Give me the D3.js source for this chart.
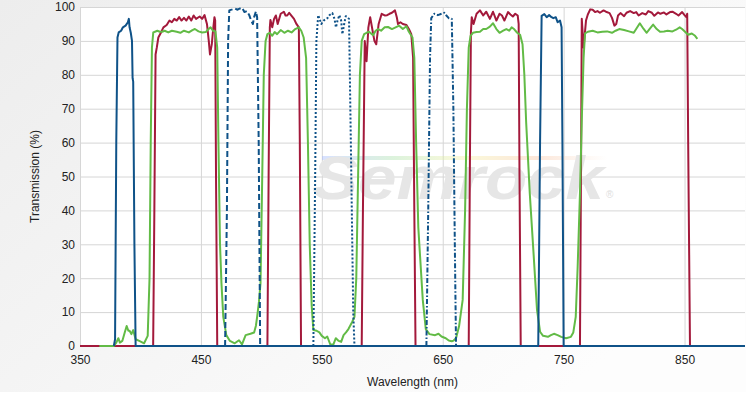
<!DOCTYPE html>
<html>
<head>
<meta charset="utf-8">
<script src="https://cdn.jsdelivr.net/npm/d3@7"></script>
<style>
  body { margin: 0; background: #fff; }
  svg { display: block; font-family: Arial, "Liberation Sans", sans-serif; }
  .axis text { font-size: 12px; fill: #222; }
  .axis path { display: none; }
  .grid line { stroke: #d6d6d6; stroke-width: 1; }
</style>
</head>
<body>
<div class="container"></div>
<script>
const WIDTH = 746;
const HEIGHT = 399;
const LEFT = 80, RIGHT = 745, TOP = 7, BOTTOM = 346;

const xTicks = [350, 450, 550, 650, 750, 850];
const yTicks = [0, 10, 20, 30, 40, 50, 60, 70, 80, 90, 100];

// [wavelength nm, transmission %]
const blueSolid = [
  [378,0],[379,2],[380,60],[381,91],[382,92.5],[384,93],[385.5,94],[387.7,94.5],[389.6,95.5],[390.4,96.5],
  [391,94],[392,92.4],[393,90],[393.5,79],[394,78],[395,30],[396,0],
  [729,0],[730.5,60],[731.8,97.4],[734,97.9],[736,97],[738,97.6],[740,97],[741.5,96.7],[743.5,97],
  [745,95.5],[747,96],[748.3,94],[749,60],[750,0],[900,0]
];
const blueDashed = [
  [470,0],[471.5,40],[472.5,90],[473.5,99],[476,99.3],[478,99.6],[480,99.2],[482,99.5],[484,99.8],
  [486,98.5],[488,98.8],[490,97.6],[491.5,96],[493,95],[494,97],[495.5,98.7],[496.5,97],[497.8,60],[499,0]
];
const blueDotted = [
  [543,0],[544.5,50],[545.5,90],[547,97.6],[549.6,95],[551.5,96],[554.6,96.7],[556,97.5],[558.7,98.2],
  [560.5,96.5],[561.7,94],[563,96],[564.5,97.6],[566,96],[567,92],[568.5,95],[569.8,97.3],[571,97],
  [572.5,96.5],[574,60],[576,10],[577,0]
];
const blueDashDot = [
  [636.5,0],[638,40],[639.5,85],[640.5,96.7],[643,98],[646,97.6],[649,98],[651.4,98.3],[653,97.5],
  [655,96.7],[657.5,96.5],[658.8,70],[660,30],[661,0]
];
const red = [
  [350,0],[410.5,0],[411.5,40],[412.5,86],[413.5,88],[414.8,91],[417,92.5],[419,94],[421.7,94.7],[424,96],
  [426,95.5],[428,96.5],[430,96],[432,97],[434,96],[436,96.8],[438,96],[440,97.2],[442,96],[444,97.5],
  [446,96.5],[449,97.2],[451,96.5],[453,97.6],[455,95],[456.5,90],[457.5,86],[458.5,88],[459,89],[460,93],
  [461.2,97],[461.8,96],[462.5,50],[463.5,0],
  [505,0],[506,50],[507,94],[507.5,96.2],[509,94],[510.5,96.5],[512,97.5],[513.5,95],[516,98],[518.6,98.6],
  [520,97.5],[521.4,97.5],[523,98.3],[525,97.4],[527,96.5],[529,95],[530,94.5],[531,94],[531.8,60],[532.8,0],
  [583,0],[584,40],[585.5,90],[587,84],[588.5,94],[590,97],[592,93],[593.5,90],[595,89],[597,95],[599.5,98],
  [602,97.5],[604,97.6],[606,98],[608,98.3],[610.5,99],[612,97],[613,95],[615,95.5],[617,95],[620,94.7],
  [622,93.5],[624,92],[625.5,85],[626.5,40],[627.5,0],
  [671.5,0],[672.6,60],[673.3,92.4],[674,97],[675.5,95],[678,98],[680.8,99],[683.5,97.5],[686,98.6],
  [689,96.5],[691.6,98.6],[694.4,96],[697,98],[699,97.5],[701,96],[704,98.5],[706,97.8],[708,97.2],
  [710,98],[712,97.5],[712.8,95],[713.5,50],[714.5,0],
  [763.5,0],[764.5,60],[765,96.5],[766.5,88],[768.5,96],[770,97.8],[772,99.3],[774,99.2],[776,98.5],
  [778,98.8],[780,98.3],[783,99],[785,98.6],[788,98.2],[790,96.8],[792,94.5],[793.5,95],[795,97.5],
  [797,98.2],[800,97.3],[802,98.3],[805,98.8],[808,98.2],[810,98.5],[812,97.5],[815,98.2],[818,97.8],
  [820,98.8],[823,98.3],[825,97.4],[828,98.4],[830,98],[833,98.4],[835,97.8],[838,98.5],[840,98.6],
  [843,98],[845,97.5],[848,98.5],[850,97.6],[851.5,97],[852.2,98],[853,60],[854.5,0],[900,0]
];
const green = [
  [366,0],[378,0],[380,1],[381.7,2.3],[383,1],[385,1.5],[387,4],[388.6,5.9],[390,4.5],[391,4.5],[392.5,3.5],
  [394,4.7],[396,2],[399,1.5],[403,0.8],[406,3],[407.5,20],[408.5,60],[409.5,88],[410.6,92.5],[412,92.7],
  [414,93],[416,92.7],[418,92.7],[420,93],[423,92.5],[426,93],[430,92.7],[433,92.4],[436,93],[440,92.5],
  [443,93.2],[445,93.5],[448,92.8],[451,92.5],[454,92.6],[456,93.4],[458,94],[460,93],[462,92.8],[463.5,88],
  [464.5,60],[465.8,30],[467,18.5],[468.5,8.6],[471,3.2],[474,1.5],[478,0.8],[481.5,1.7],[484,0.5],[487,3.2],
  [491,3.6],[494,4],[495.5,6],[496.5,8.6],[498,13],[499.3,18.5],[500.5,45],[502,80],[503.5,90],[505,92],
  [507,92.4],[509,91.5],[511,92.6],[513,92],[516,93.2],[519,92.4],[522,93],[525,92.5],[528,93.5],[531,94],
  [533,93],[535,91],[537,85],[538.5,60],[540,30],[541.6,12],[543,4.7],[545.7,4.5],[548,4],[550,3],[552.6,2.3],
  [554.5,2.8],[557,0.5],[559.5,0.4],[561.6,2.3],[564,1.5],[566,1.2],[568,3.2],[570,4],[572,5],[575,7],
  [577,8.6],[578.5,20],[580,50],[581.5,80],[583,90],[585,92],[587,92.4],[589,92.7],[592.4,91.7],[594.5,93],
  [596.5,93.5],[599,93],[602,94],[604.8,94.1],[608,93.5],[611,94],[614,94.5],[617,93.5],[620,94.3],[622,92.7],
  [625,91],[626.5,85],[628,60],[629.8,35],[631,28],[633.5,13.6],[636,5],[639,3.5],[643.7,3.2],[646.5,3.6],
  [649,2.8],[652.5,2.3],[655,1.6],[657.5,1.4],[659,1.6],[661,2.3],[663.5,5.8],[666.5,13.6],[668.5,40],
  [670,70],[671.5,88],[673,91.5],[675,92.4],[678,92.6],[680.8,92.7],[683.5,93.5],[686,93.5],[689,94.2],
  [691.6,95.2],[694.4,93.5],[697,92.4],[700,93],[702.6,93.5],[705,93],[707,94],[709,93.5],[711.6,92.4],
  [714,91.8],[716,89],[717.5,80],[719,66],[722,45],[725,28],[728,10.6],[730.5,4.2],[733,3],[737,2.7],
  [739.5,3.2],[742,3.6],[745,3.2],[748,2.7],[752,2.3],[756,2.7],[758,4],[760,8.6],[761.6,23.4],[763.5,45],
  [765,66.7],[766.5,85],[767.7,92.2],[770,92.7],[774,93],[778,92.5],[782,92.7],[786,92.8],[790,92.4],
  [793,93],[796,93.5],[800,93.2],[804,92.8],[808,92.4],[810.5,93.8],[813,95.2],[816,93.6],[818.7,92.4],
  [821,93.5],[824,94.8],[827,93.5],[829.7,92.7],[833,92.8],[836,93],[840,92.8],[843,93.3],[846,94],
  [848,93.5],[850.4,92.7],[853,91.8],[856,92.2],[858.7,91.5],[860.6,90.6]
];

var translate = function(x, y) {
    return `translate(${x},${y})`;
};

var fillLayout = function() {
    var svg = d3.select('.container').append('svg')
        .attr('width', WIDTH)
        .attr('height', HEIGHT);

    var defs = svg.append('defs');
    var bg = defs.append('linearGradient').attr('id', 'bg')
        .attr('x1', 0).attr('y1', 0).attr('x2', 1).attr('y2', 0.6);
    bg.append('stop').attr('offset', '0%').attr('stop-color', '#ededed');
    bg.append('stop').attr('offset', '100%').attr('stop-color', '#fdfdfd');

    var rainbow = defs.append('linearGradient').attr('id', 'rainbow');
    ['#9db4ff', '#a8e0a8', '#f4f0a0', '#f6c2a0', '#ffffff'].forEach(function(c, i) {
        rainbow.append('stop').attr('offset', (i * 25) + '%').attr('stop-color', c);
    });

    svg.append('rect').attr('width', WIDTH).attr('height', 392).attr('fill', 'url(#bg)');
    svg.append('rect')
        .attr('x', LEFT).attr('y', TOP)
        .attr('width', RIGHT - LEFT).attr('height', BOTTOM - TOP)
        .attr('fill', '#fff');

    let xScale = d3.scaleLinear().domain([350, 900]).range([LEFT, RIGHT]);
    let yScale = d3.scaleLinear().domain([0, 100]).range([BOTTOM, TOP]);

    // grid
    svg.append('g').classed('grid', true)
        .attr('transform', translate(LEFT, 0))
        .call(d3.axisLeft(yScale).tickValues(yTicks).tickSize(-(RIGHT - LEFT)).tickFormat(''))
        .call(g => g.select('.domain').remove());
    svg.append('g').classed('grid', true)
        .attr('transform', translate(0, BOTTOM))
        .call(d3.axisBottom(xScale).tickValues(xTicks).tickSize(-(BOTTOM - TOP)).tickFormat(''))
        .call(g => g.select('.domain').remove());

    // watermark
    var wm = svg.append('g');
    wm.append('rect').attr('x', 322).attr('y', 156).attr('width', 285).attr('height', 4)
        .attr('fill', 'url(#rainbow)').attr('opacity', 0.4);
    wm.append('text')
        .attr('x', 312).attr('y', 199)
        .attr('textLength', 292)
        .attr('lengthAdjust', 'spacingAndGlyphs')
        .style('font-size', '62px').style('font-weight', 'bold').style('font-style', 'italic')
        .attr('fill', '#e6e6e6')
        .text('Semrock');
    wm.append('text')
        .attr('x', 606).attr('y', 198)
        .style('font-size', '10px').attr('fill', '#dedede')
        .text('®');

    var line = d3.line()
        .x(d => xScale(d[0]))
        .y(d => yScale(d[1]));

    var series = [
        { data: red, color: '#a3193b', dash: null },
        { data: green, color: '#62bb46', dash: null },
        { data: blueDashed, color: '#0f5288', dash: '6,3' },
        { data: blueDotted, color: '#0f5288', dash: '2,2' },
        { data: blueDashDot, color: '#0f5288', dash: '5,2,1.5,2' },
        { data: blueSolid, color: '#0f5288', dash: null }
    ];

    var lines = svg.append('g');
    series.forEach(function(s) {
        lines.append('path')
            .attr('d', line(s.data))
            .attr('fill', 'none')
            .attr('stroke', s.color)
            .attr('stroke-width', 2)
            .attr('stroke-linejoin', 'round')
            .attr('stroke-dasharray', s.dash);
    });

    // axes labels
    svg.append('g').classed('axis', true)
        .attr('transform', translate(LEFT, 0))
        .call(d3.axisLeft(yScale).tickValues(yTicks).tickSize(0).tickPadding(5));
    svg.append('g').classed('axis', true)
        .attr('transform', translate(0, BOTTOM))
        .call(d3.axisBottom(xScale).tickValues(xTicks).tickSize(0).tickPadding(9));

    svg.append('text')
        .attr('x', (LEFT + RIGHT) / 2).attr('y', 386)
        .attr('text-anchor', 'middle')
        .style('font-size', '12px').attr('fill', '#222')
        .text('Wavelength (nm)');
    svg.append('text')
        .attr('transform', translate(39, (TOP + BOTTOM) / 2) + ' rotate(-90)')
        .attr('text-anchor', 'middle')
        .style('font-size', '12px').attr('fill', '#222')
        .text('Transmission (%)');
};
window.onload = fillLayout;
</script>
</body>
</html>
